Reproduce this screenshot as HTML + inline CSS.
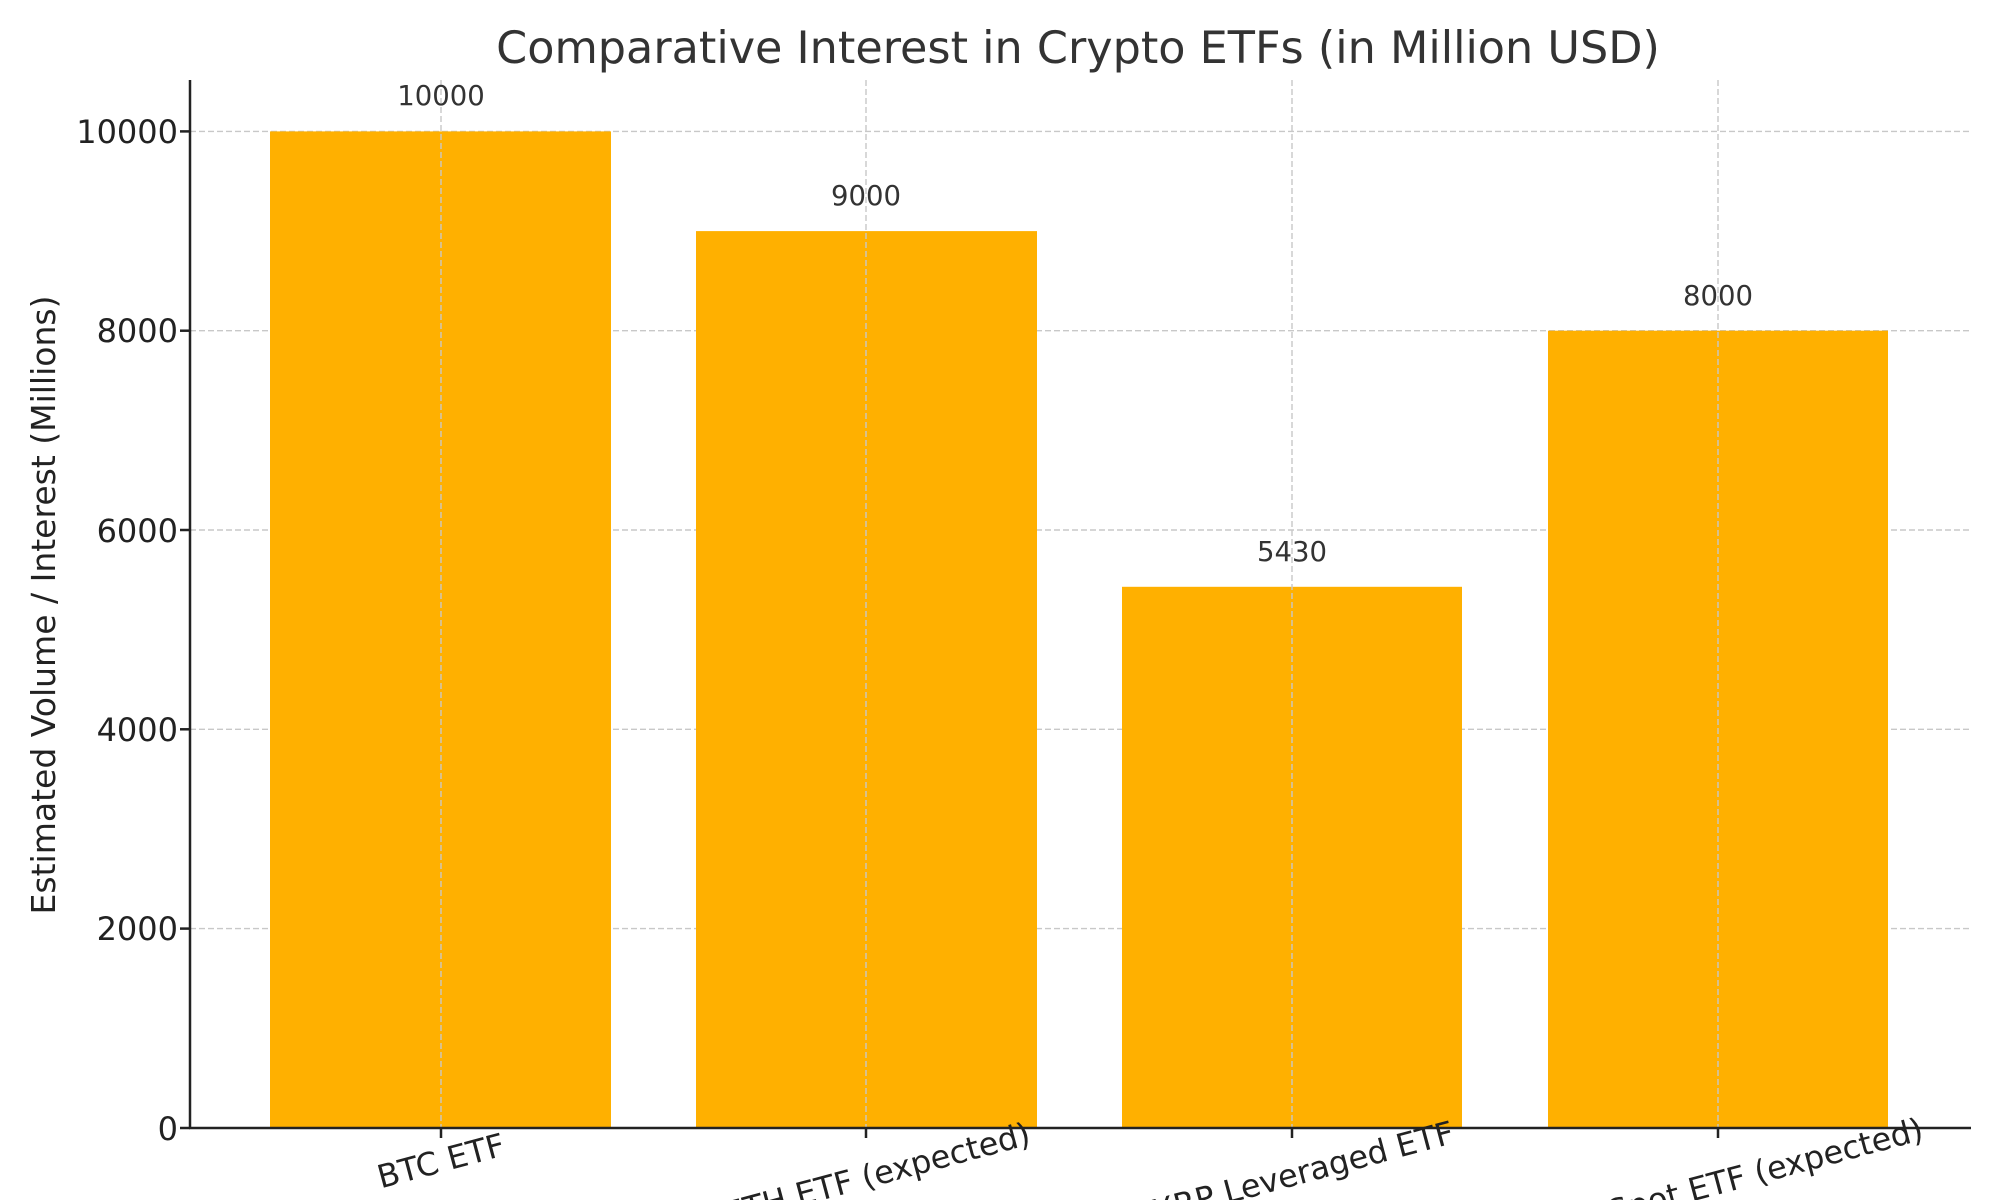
<!DOCTYPE html>
<html><head><style>html,body{margin:0;padding:0;background:#fff;width:2000px;height:1200px;overflow:hidden}svg{display:block}</style></head>
<body>
<svg width="2000" height="1200" xmlns="http://www.w3.org/2000/svg" font-family="'DejaVu Sans','Liberation Sans',sans-serif">
<rect width="2000" height="1200" fill="#fff"/>
<g stroke="#c8c8c8" stroke-width="1.4" stroke-dasharray="6,3">
<line x1="190" x2="1971" y1="131.4" y2="131.4"/>
<line x1="190" x2="1971" y1="330.7" y2="330.7"/>
<line x1="190" x2="1971" y1="530" y2="530"/>
<line x1="190" x2="1971" y1="729.3" y2="729.3"/>
<line x1="190" x2="1971" y1="928.6" y2="928.6"/>
</g>
<g fill="#FFB000">
<rect x="270" y="131.4" width="341" height="996.6"/>
<rect x="696" y="231.1" width="341" height="896.9"/>
<rect x="1122" y="586.8" width="340" height="541.2"/>
<rect x="1548" y="330.7" width="340" height="797.3"/>
</g>
<g stroke="#c8c8c8" stroke-width="1.4" stroke-dasharray="6,3">
<line x1="441" x2="441" y1="80" y2="1128"/>
<line x1="866" x2="866" y1="80" y2="1128"/>
<line x1="1292" x2="1292" y1="80" y2="1128"/>
<line x1="1718" x2="1718" y1="80" y2="1128"/>
</g>
<g stroke="#222" stroke-width="2.5">
<line x1="190" y1="80" x2="190" y2="1129"/>
<line x1="189" y1="1128" x2="1971" y2="1128"/>
<line x1="180" x2="190" y1="131.4" y2="131.4"/>
<line x1="180" x2="190" y1="330.7" y2="330.7"/>
<line x1="180" x2="190" y1="530" y2="530"/>
<line x1="180" x2="190" y1="729.3" y2="729.3"/>
<line x1="180" x2="190" y1="928.6" y2="928.6"/>
<line x1="180" x2="190" y1="1128" y2="1128"/>
<line x1="441" x2="441" y1="1128" y2="1138"/>
<line x1="866" x2="866" y1="1128" y2="1138"/>
<line x1="1292" x2="1292" y1="1128" y2="1138"/>
<line x1="1718" x2="1718" y1="1128" y2="1138"/>
</g>
<text x="1078" y="63" font-size="44.5" fill="#333" text-anchor="middle">Comparative Interest in Crypto ETFs (in Million USD)</text>
<g font-size="32" fill="#222" text-anchor="end">
<text x="178" y="143">10000</text>
<text x="178" y="342">8000</text>
<text x="178" y="542">6000</text>
<text x="178" y="741">4000</text>
<text x="178" y="940">2000</text>
<text x="178" y="1140">0</text>
</g>
<text transform="translate(55,605) rotate(-90)" font-size="33" fill="#222" text-anchor="middle">Estimated Volume / Interest (Millions)</text>
<g font-size="27.5" fill="#333" text-anchor="middle">
<text x="441" y="105">10000</text>
<text x="866" y="205">9000</text>
<text x="1292" y="561">5430</text>
<text x="1718" y="305">8000</text>
</g>
<g font-size="32" fill="#222" text-anchor="middle" dominant-baseline="central">
<text transform="translate(441,1161) rotate(-15)">BTC ETF</text>
<text transform="translate(877,1174) rotate(-15)">ETH ETF (expected)</text>
<text transform="translate(1303,1172) rotate(-15)">XRP Leveraged ETF</text>
<text transform="translate(1730,1180) rotate(-15)">SOL Spot ETF (expected)</text>
</g>
</svg>
</body></html>
